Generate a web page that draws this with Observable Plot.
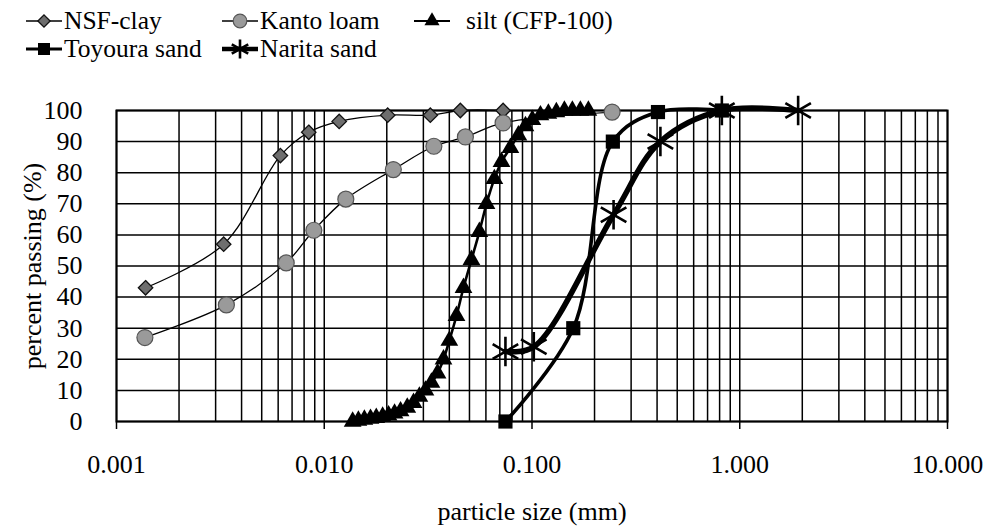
<!DOCTYPE html>
<html><head><meta charset="utf-8">
<script src="https://cdn.jsdelivr.net/npm/d3@7"></script>
<script src="https://cdn.jsdelivr.net/npm/@observablehq/plot@0.6"></script>
<style>
body{margin:0;background:#fff;font-family:'Liberation Serif','Times New Roman',serif;color:#000}
#wrap{width:990px;height:530px;position:relative;overflow:hidden;background:#fff}
#legend{position:relative;width:990px;height:90px}
.item{position:absolute;display:flex;align-items:center;font-size:25.5px;line-height:1;white-space:nowrap}
.item svg{display:block;margin-right:2px}
</style></head>
<body><div id="wrap"><div id="legend"></div><div id="chart"></div></div>
<script>
// ---- data ----
const xTickValues = [0.001, 0.01, 0.1, 1, 10];
const yTickValues = [0, 10, 20, 30, 40, 50, 60, 70, 80, 90, 100];

const nsfSize = [0.00138, 0.00328, 0.00615, 0.00842, 0.0118, 0.0202, 0.0324, 0.0452, 0.0726];
const nsfPass = [43, 57, 85.5, 93, 96.5, 98.5, 98.5, 100, 100];

const kantoSize = [0.00137, 0.00338, 0.00656, 0.00891, 0.0127, 0.0215, 0.0337, 0.0478, 0.0726, 0.243];
const kantoPass = [27, 37.5, 51, 61.5, 71.5, 81, 88.5, 91.5, 96, 99.5];

const siltSize = [0.0137, 0.0146, 0.0156, 0.0167, 0.0178, 0.0191, 0.0204, 0.0218, 0.0233, 0.0251,
  0.0269, 0.0287, 0.0307, 0.0328, 0.0351, 0.0375, 0.0400, 0.0433, 0.0468, 0.0511, 0.0558, 0.0604,
  0.0659, 0.0713, 0.0787, 0.0860, 0.0930, 0.1004, 0.1098, 0.1199, 0.1310, 0.1432, 0.1564, 0.1709, 0.1868];
const siltPass = [0, 0.3, 0.6, 0.9, 1.2, 1.6, 2.0, 2.6, 3.3, 4.5,
  6, 8, 10, 12.5, 15.5, 20, 26, 34, 43, 52, 61, 70,
  78, 83.5, 88, 92, 95, 97, 98.5, 99, 99.5, 100, 100, 100, 100];

const toyouraSize = [0.0745, 0.158, 0.245, 0.404, 0.82];
const toyouraPass = [0, 30, 90, 99.5, 100];

const naritaSize = [0.0745, 0.102, 0.247, 0.415, 0.82, 1.91];
const naritaPass = [22.5, 24, 66.5, 90, 100, 100];

const seriesNames = ["NSF-clay", "Kanto loam", "silt (CFP-100)", "Toyoura sand", "Narita sand"];

const rows = (s, p) => s.map((d, i) => ({size: d, pass: p[i]}));
const nsf = rows(nsfSize, nsfPass);
const kanto = rows(kantoSize, kantoPass);
const silt = rows(siltSize, siltPass);
const toyoura = rows(toyouraSize, toyouraPass);
const narita = rows(naritaSize, naritaPass);

const FONT = "'Liberation Serif', 'Times New Roman', serif";

// ---- styles ----
const st = {
  "NSF-clay": {sym: "diamond2", r: 6.5, fill: "#6e6e6e", stroke: "#111", sw: 1.3, lw: 1.3},
  "Kanto loam": {sym: "circle", r: 8, fill: "#9a9a9a", stroke: "#555", sw: 1.2, lw: 1.3},
  "silt (CFP-100)": {sym: "triangle", r: 6.6, fill: "#000", stroke: "none", sw: 0, lw: 2.6},
  "Toyoura sand": {sym: "square", r: 8, fill: "#000", stroke: "none", sw: 0, lw: 3.6},
  "Narita sand": {sym: "asterisk", r: 14, fill: "none", stroke: "#000", sw: 2.6, lw: 5.5}
};

// ---- legend (Excel-style columns) ----
const legendPos = {
  "NSF-clay": [26, 20], "Kanto loam": [222, 20], "silt (CFP-100)": [414, 20],
  "Toyoura sand": [26, 48], "Narita sand": [222, 48]
};
const legend = d3.select("#legend");
const symMap = {diamond2: d3.symbolDiamond2, circle: d3.symbolCircle, triangle: d3.symbolTriangle, square: d3.symbolSquare, asterisk: d3.symbolAsterisk};
for (const name of seriesNames) {
  const s = st[name];
  const [lx, ly] = legendPos[name];
  const it = legend.append("div").attr("class", "item").style("left", lx + "px").style("top", (ly - 13) + "px");
  const w = name === "silt (CFP-100)" ? 50 : 36;
  const svg = it.append("svg").attr("width", w).attr("height", 28);
  svg.append("line").attr("x1", 0).attr("x2", 36).attr("y1", 14).attr("y2", 14)
    .attr("stroke", "#000").attr("stroke-width", Math.max(1.3, s.lw * 0.8));
  const rr = name === "Narita sand" ? 9 : s.r * 0.85;
  svg.append("path").attr("transform", "translate(18,14)")
    .attr("d", d3.symbol(symMap[s.sym], Math.PI * rr * rr)())
    .attr("fill", s.fill).attr("stroke", s.stroke === "none" ? null : s.stroke)
    .attr("stroke-width", s.sw);
  it.append("span").style("font-family", FONT).text(name);
}

// ---- chart ----
const datasets = [["NSF-clay", nsf], ["Kanto loam", kanto], ["silt (CFP-100)", silt], ["Toyoura sand", toyoura], ["Narita sand", narita]];
const seriesMarks = [];
for (const [name, data] of datasets) {
  const s = st[name];
  seriesMarks.push(Plot.line(data, {x: "size", y: "pass", curve: "catmull-rom", stroke: "#000", strokeWidth: s.lw}));
}
for (const [name, data] of datasets) {
  const s = st[name];
  seriesMarks.push(Plot.dot(data, {x: "size", y: "pass", symbol: s.sym, r: s.r, fill: s.fill, stroke: s.stroke, strokeWidth: s.sw}));
}

const minorTicks = d3.scaleLog().domain([xTickValues[0], xTickValues[xTickValues.length - 1]]).ticks();

const chart = Plot.plot({
  width: 990, height: 440,
  marginLeft: 116, marginRight: 43, marginTop: 20, marginBottom: 109,
  style: {fontFamily: FONT, fontSize: "26px", color: "#000", background: "#fff", overflow: "visible"},
  x: {type: "log", domain: [0.001, 10]},
  y: {domain: [0, 100]},
  marks: [
    Plot.gridX(minorTicks, {stroke: "#000", strokeOpacity: 1, strokeWidth: 1.5}),
    Plot.gridY(yTickValues, {stroke: "#000", strokeOpacity: 1, strokeWidth: 1.5}),
    Plot.frame({stroke: "#000", strokeWidth: 2}),
    Plot.axisX({ticks: xTickValues, tickFormat: d3.format(".3f"), tickSize: 8, tickPadding: 25, strokeWidth: 1.5,
      label: "particle size (mm)", labelAnchor: "center", labelArrow: "none", labelOffset: 98}),
    Plot.axisY({ticks: yTickValues, tickSize: 0, tickPadding: 34,
      label: "percent passing (%)", labelAnchor: "center", labelArrow: "none", labelOffset: 94}),
    ...seriesMarks
  ]
});
chart.querySelectorAll("text").forEach(t => t.style.fontFamily = FONT);
document.getElementById("chart").appendChild(chart);
</script></body></html>
